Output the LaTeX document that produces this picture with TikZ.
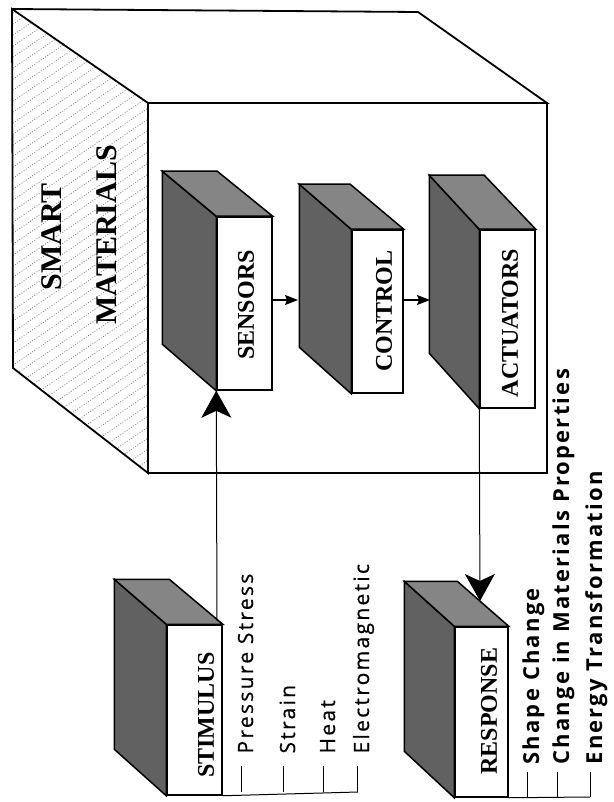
\documentclass[tikz,border=0pt]{standalone}
\usepackage{fontspec}
\setmainfont{Liberation Serif}
\newfontfamily\listfont[LetterSpace=11, FakeBold=0.6]{Open Sans}
\newfontfamily\resfont[LetterSpace=10]{Open Sans}
\usetikzlibrary{arrows.meta}
\tikzset{
  cubeline/.style={line width=1.8pt, line join=miter},
  hatch/.style={gray, line width=0.7pt, dash pattern=on 1pt off 1.6pt},
  frontface/.style={draw, line width=1.5pt, fill=white, inner sep=0pt},
  sideface/.style={draw, line width=1.5pt, fill=black!62},
  topface/.style={draw, line width=1.5pt, fill=black!48},
  boxlabel/.style={rotate=90, font=\fontsize{24}{26}\selectfont\bfseries},
  titlelabel/.style={rotate=90, font=\fontsize{30}{32}\selectfont\bfseries},
  listlabel/.style={rotate=90, anchor=base west, font=\listfont\fontsize{21}{23}\selectfont},
  reslabel/.style={rotate=90, anchor=base west, font=\resfont\fontsize{22}{24}\selectfont\bfseries},
  thinline/.style={line width=1pt},
  bigarrow/.style={line width=1pt, -{Stealth[length=27pt, width=30pt, inset=7pt]}},
  smallarrow/.style={line width=1.2pt, -{Stealth[length=13pt, width=10pt, inset=2pt]}},
}
\newcommand\blockbox[7]{%
  \node[frontface, minimum width=#4, minimum height=#5] (#1) at (#2,#3) {};
  \filldraw[sideface] (#1.north west) -- ++(-#6,-#7) -- ++(0,#5) -- (#1.south west) -- cycle;
  \filldraw[topface] (#1.north west) -- ++(-#6,-#7) -- ++(#4,0) -- (#1.north east) -- cycle;
  \node[frontface, minimum width=#4, minimum height=#5] at (#2,#3) {};
}
\begin{document}
\begin{tikzpicture}[x=1pt, y=-1pt]
\useasboundingbox (0,0) rectangle (613,802);
% big cube
\begin{scope}
  \clip (12,9) -- (148,103) -- (148,473) -- (13,368) -- cycle;
  \foreach \k in {0,11,...,700} \draw[hatch] (0,\k) -- ++(220,-150);
\end{scope}
\draw[cubeline] (12,9) -- (148,103) -- (148,473) -- (13,368) -- cycle;
\draw[cubeline] (12,9) -- (418,12) -- (547,103) -- (148,103);
\draw[cubeline] (148,103) rectangle (547,473);
\node[titlelabel] (smart) at (52,237) {SMART};
\node[titlelabel] (materials) at (107,235) {MATERIALS};
% blocks
\blockbox{sensors}{244.5}{303.5}{55}{173}{54}{45}
\blockbox{control}{377.5}{311.5}{51}{163}{52}{45}
\blockbox{actuators}{507.5}{319}{55}{178}{50}{54}
\blockbox{stimulus}{194.5}{710}{55}{170}{52}{45}
\blockbox{response}{481.5}{712}{53}{170}{50}{45}
\node[boxlabel] (tsens) at (246,305) {SENSORS};
\node[boxlabel] (tctrl) at (384,311) {CONTROL};
\node[boxlabel] (tact) at (510,323) {ACTUATORS};
\node[boxlabel] (tstim) at (206,715) {STIMULUS};
\node[boxlabel] (tresp) at (489,711) {RESPONSE};
% connectors
\coordinate (controlside) at (298,300);
\coordinate (actside) at (430,300);
\coordinate (sensout) at (272,300);
\coordinate (ctrlout) at (403,300);
\draw[smallarrow] (sensout) -- (controlside);
\draw[smallarrow] (ctrlout) -- (actside);
\coordinate (stimtop) at (217,621);
\draw[bigarrow] (stimtop) -- (sensors.south west);
\coordinate (resptop) at (480,601);
\draw[bigarrow] (actuators.south west) -- (resptop);
% stimulus list
\draw[thinline] (stimulus.south east) -- (358,792);
\foreach \x in {241,283,323,357} \draw[thinline] (\x,766) -- (\x,792);
\node[listlabel] (l1) at (253,757) {Pressure Stress};
\node[listlabel] (l2) at (295,757) {Strain};
\node[listlabel] (l3) at (335,757) {Heat};
\node[listlabel] (l4) at (369,757) {Electromagnetic};
% response list
\draw[thinline] (response.south east) -- (590,797);
\foreach \x in {527,557,590} \draw[thinline] (\x,772) -- (\x,797);
\node[reslabel] (r1) at (539,768) {Shape Change};
\node[reslabel] (r2) at (569,768) {Change in Materials Properties};
\node[reslabel] (r3) at (602,768) {Energy Transformation};
\end{tikzpicture}
\end{document}
